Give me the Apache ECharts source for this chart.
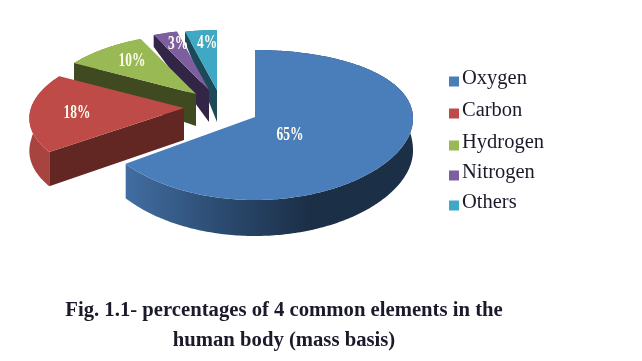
<!DOCTYPE html>
<html>
<head>
<meta charset="utf-8">
<style>html,body{margin:0;background:#fff}#chart{width:642px;height:361px}</style>
<script src="https://cdn.jsdelivr.net/npm/echarts@6/dist/echarts.min.js"></script>
</head>
<body>
<div id="chart"></div>
<script>
var categories=["Oxygen","Carbon","Hydrogen","Nitrogen","Others"];
var percentages=[65,18,10,3,4];

var topColors=["#4a7ebb","#be4b48","#98b954","#7d5fa0","#3fa8c4"];
var cutColors=["#1c3048","#622623","#3f4a20","#332545","#1d4a58"];
var wallColors=[null,"#a84340","#6f8a3a","#5d4678","#2d7f94"];
//where each exploded slice has its tip, and how big it is drawn
var tips=[[255,117],[184,108],[196,94],[209,90],[217,90]];
var radiiX=[158,153,150,150,150];
var radiiY=[75,70,68,68,68];
var widthTilt=[0.02,0.15,0.15,0.15,0.15];
var labelOffsets=[[35,18],[-107,5],[-64,-33],[-31,-46],[-10,-47]];
var legendTops=[68,100,132,162,192];

var textFont="'Liberation Serif',serif";

var total=percentages.reduce((a,b)=>a+b,0);
function startAngle(i){
	let sum=0;
	for(let k=0;k<i;k++)sum+=percentages[k];
	return sum/total*2*Math.PI;
}

//tilted pie, near side a bit bigger than the far side
function project(i,a){
	let s=Math.sin(a),u=-Math.cos(a);
	return [tips[i][0]+radiiX[i]*s*(1+widthTilt[i]*u),tips[i][1]+radiiY[i]*u+8*u*u];
}
function lower(i,a){
	let p=project(i,a),u=-Math.cos(a);
	let d=u<0?32+22*u:32+4*u;
	return [p[0],p[1]+d];
}

function renderSlice(i){
	let tip=tips[i];
	let a0=startAngle(i),a1=a0+percentages[i]/total*2*Math.PI;
	let steps=Math.ceil((a1-a0)*60);
	let rim=[],rimLow=[];
	for(let k=0;k<=steps;k++){
		let a=a0+(a1-a0)*k/steps;
		rim.push(project(i,a));
		rimLow.push(lower(i,a));
	}
	let tipLow=[tip[0],tip[1]+32];
	let wallFill=wallColors[i];
	if(i==0){
		wallFill=new echarts.graphic.LinearGradient(125,0,310,0,[
			{offset:0,color:"#426ea2"},
			{offset:0.5,color:"#2c4c72"},
			{offset:1,color:"#1b2f47"}
		],true);
	}
	return {type:"group",children:[
		{type:"polygon",shape:{points:rim.concat(rimLow.slice().reverse())},style:{fill:wallFill}},
		{type:"polygon",shape:{points:[tip,rim[0],rimLow[0],tipLow]},style:{fill:cutColors[i]}},
		{type:"polygon",shape:{points:[tip].concat(rim)},style:{fill:topColors[i]}},
		{type:"text",x:tip[0]+labelOffsets[i][0],y:tip[1]+labelOffsets[i][1],scaleX:0.75,style:{
			text:percentages[i]+"%",fill:"#fffdf0",font:"bold 18px "+textFont,align:"center",verticalAlign:"middle"
		}}
	]};
}

//far slices first so the near ones paint over them
var series=[];
for(let i=categories.length-1;i>=0;i--){
	series.push({
		name:categories[i],
		type:"custom",
		coordinateSystem:"none",
		silent:true,
		animation:false,
		itemStyle:{color:topColors[i]},
		data:[[percentages[i]]],
		renderItem:()=>renderSlice(i)
	});
}

var legends=categories.map((name,i)=>({
	data:[name],
	left:449,
	top:legendTops[i],
	padding:0,
	icon:"rect",
	itemWidth:10,
	itemHeight:10,
	selectedMode:false,
	formatter:"{t|{name}}",
	textStyle:{rich:{t:{fontFamily:textFont,fontSize:20.5,color:"#1a1a2a",padding:[0,0,6,-2]}}}
}));

var chart=echarts.init(document.getElementById("chart"));
chart.setOption({
	backgroundColor:"#fff",
	animation:false,
	title:{
		text:"Fig. 1.1- percentages of 4 common elements in the\nhuman body (mass basis)",
		left:279,
		top:291,
		textAlign:"center",
		textStyle:{fontFamily:textFont,fontSize:20.7,fontWeight:"bold",color:"#1a1a2a",lineHeight:30}
	},
	legend:legends,
	series:series
});
</script>
</body>
</html>
